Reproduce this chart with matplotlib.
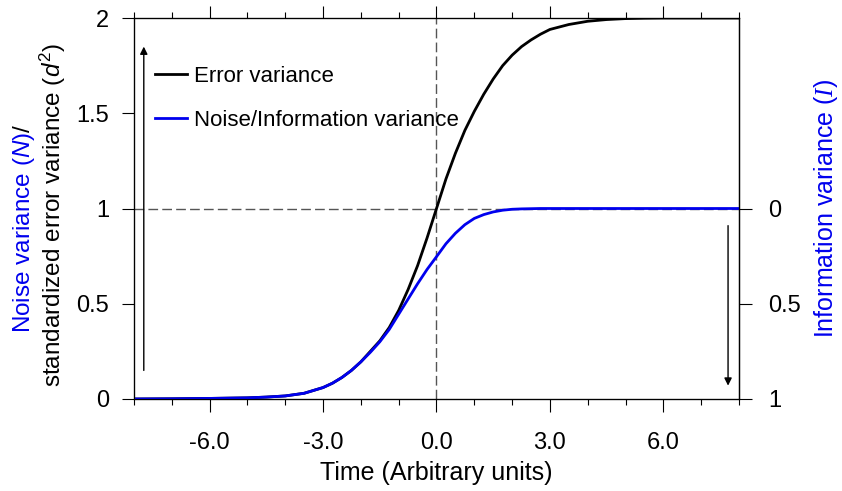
import numpy as np
import matplotlib
matplotlib.use("Agg")
import matplotlib.pyplot as plt
from matplotlib.ticker import MultipleLocator, FixedLocator

plt.rcParams['font.family'] = ['Liberation Sans', 'DejaVu Sans']
plt.rcParams['mathtext.fontset'] = 'custom'
plt.rcParams['mathtext.rm'] = 'Liberation Sans'
plt.rcParams['mathtext.it'] = 'Liberation Sans:italic'
plt.rcParams['mathtext.sf'] = 'Liberation Serif:italic'

# values
time = [-8, -7, -6, -5, -4.5, -4, -3.5, -3, -2.75, -2.5, -2.25, -2, -1.75, -1.5,
        -1.25, -1, -0.75, -0.5, -0.25, 0, 0.25, 0.5, 0.75, 1, 1.25, 1.5, 1.75,
        2, 2.25, 2.5, 2.75, 3, 3.5, 4, 4.5, 5, 5.5, 6, 7, 8]
error_var = [0.0, 0.001, 0.003, 0.006, 0.01, 0.016, 0.03, 0.06, 0.083, 0.113,
             0.15, 0.195, 0.25, 0.305, 0.375, 0.465, 0.575, 0.70, 0.845, 1.0,
             1.155, 1.29, 1.41, 1.51, 1.60, 1.68, 1.75, 1.805, 1.85, 1.885,
             1.915, 1.94, 1.966, 1.983, 1.992, 1.997, 1.999, 2.0, 2.0, 2.0]
noise_var = [0.0, 0.001, 0.003, 0.006, 0.01, 0.016, 0.03, 0.06, 0.083, 0.113,
             0.15, 0.195, 0.245, 0.30, 0.365, 0.445, 0.525, 0.605, 0.68, 0.747,
             0.815, 0.87, 0.915, 0.948, 0.968, 0.982, 0.991, 0.996, 0.998, 0.999,
             1.0, 1.0, 1.0, 1.0, 1.0, 1.0, 1.0, 1.0, 1.0, 1.0]

x_major = [-6, -3, 0, 3, 6]
x_labels = ['-6.0', '-3.0', '0.0', '3.0', '6.0']
y_left = [0, 0.5, 1, 1.5, 2]
y_left_labels = ['0', '0.5', '1', '1.5', '2']
y_right = [0, 0.5, 1]
y_right_labels = ['0', '0.5', '1']

BLUE = '#0000ee'
LABEL_FS = 18
YLAB_FS = 17.5

fig = plt.figure(figsize=(8.42, 4.91), dpi=100)
ax = fig.add_axes([0.1591, 0.1874, 0.7186, 0.7759])

ax.axhline(1, color='#555555', lw=1, dashes=(7, 3), zorder=1)
ax.axvline(0, color='#555555', lw=1, dashes=(7, 3), zorder=1)

ax.plot(time, error_var, color='black', lw=2.0, label='Error variance', zorder=3)
ax.plot(time, noise_var, color=BLUE, lw=2.0, label='Noise/Information variance', zorder=4)

ax.set_xlim(-8, 8)
ax.set_ylim(0, 2)
ax.set_xticks(x_major)
ax.set_xticklabels(x_labels)
ax.xaxis.set_minor_locator(MultipleLocator(1))
ax.set_yticks(y_left)
ax.set_yticklabels(y_left_labels)

for s in ax.spines.values():
    s.set_linewidth(0.9)

ax.tick_params(axis='x', which='major', direction='out', length=9, width=0.8,
               labelsize=17, pad=15, top=True)
ax.tick_params(axis='x', which='minor', direction='out', length=4, width=0.8, top=True)
ax.tick_params(axis='y', which='major', direction='out', length=9, width=0.8,
               labelsize=17, pad=9)
ax.set_xlabel('Time (Arbitrary units)', fontsize=LABEL_FS, labelpad=5)

ax2 = ax.twinx()
ax2.set_ylim(1, -1)
ax2.yaxis.set_major_locator(FixedLocator(y_right))
ax2.set_yticklabels(y_right_labels)
ax2.tick_params(axis='y', direction='out', length=9, width=0.8, labelsize=17, pad=12)
ax2.set_ylabel(r'Information variance ($\mathsf{I}$)', color=BLUE, fontsize=LABEL_FS,
               labelpad=8)
ax2.spines['right'].set_linewidth(0.9)

# arrows
ax.annotate('', xy=(-7.74, 1.85), xytext=(-7.74, 0.15),
            arrowprops=dict(arrowstyle='-|>', color='black', lw=1, mutation_scale=11,
                            shrinkA=0, shrinkB=0))
ax.annotate('', xy=(7.71, 0.07), xytext=(7.71, 0.91),
            arrowprops=dict(arrowstyle='-|>', color='black', lw=1, mutation_scale=11,
                            shrinkA=0, shrinkB=0))

ax.legend(loc='upper left', bbox_to_anchor=(0.035, 0.875), frameon=False, fontsize=16,
          handlelength=1.45, handletextpad=0.3, labelspacing=1.05, borderpad=0,
          borderaxespad=0)

# two-line, two-colour y label (baselines at x=61 px and x=30 px)
W, H = fig.get_size_inches() * fig.dpi
fig.text(61 / W, 1 - 387 / H, r'standardized error variance ($d^2$)', rotation=90,
         rotation_mode='anchor', ha='left', va='baseline', fontsize=YLAB_FS,
         color='black')
blue_part = fig.text(30 / W, 1 - 333 / H, r'Noise variance ($N$)', rotation=90,
                     rotation_mode='anchor', ha='left', va='baseline',
                     fontsize=YLAB_FS, color=BLUE)
fig.canvas.draw()
bb = blue_part.get_window_extent(fig.canvas.get_renderer())
fig.text(30 / W, bb.y1 / H, '/', rotation=90, rotation_mode='anchor', ha='left',
         va='baseline', fontsize=YLAB_FS, color='black')

fig.savefig('out.png', dpi=100)
